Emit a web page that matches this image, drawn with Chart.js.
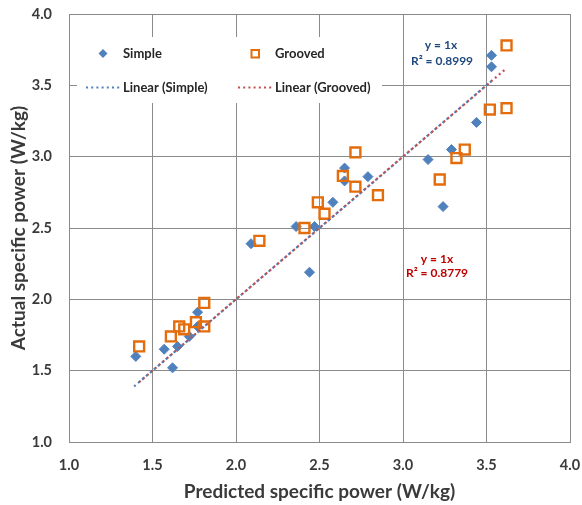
<!DOCTYPE html>
<html>
<head>
<meta charset="utf-8">
<script src="https://cdn.jsdelivr.net/npm/chart.js@4/dist/chart.umd.min.js"></script>
<style>
html,body{margin:0;padding:0;background:#fff;}
#wrap{position:relative;width:582px;height:505px;}
</style>
</head>
<body>
<div id="wrap"><canvas id="c" width="582" height="505"></canvas></div>
<script>
// ---- data ----
const simpleX = [1.40, 1.57, 1.62, 1.65, 1.72, 1.77, 1.77, 2.09, 2.36, 2.47, 2.44, 2.58, 2.65, 2.65, 2.79, 3.15, 3.24, 3.29, 3.44, 3.53, 3.53];
const simpleY = [1.60, 1.65, 1.52, 1.67, 1.74, 1.91, 1.81, 2.39, 2.51, 2.51, 2.19, 2.68, 2.92, 2.83, 2.86, 2.98, 2.65, 3.05, 3.24, 3.71, 3.63];
const groovedX = [1.42, 1.61, 1.66, 1.69, 1.76, 1.81, 1.81, 2.14, 2.41, 2.49, 2.53, 2.64, 2.715, 2.715, 2.85, 3.22, 3.32, 3.37, 3.52, 3.62, 3.62];
const groovedY = [1.67, 1.74, 1.81, 1.79, 1.84, 1.81, 1.975, 2.41, 2.50, 2.68, 2.60, 2.865, 3.03, 2.79, 2.73, 2.84, 2.99, 3.05, 3.33, 3.34, 3.78];
// trendlines y = 1x over each series' x-range
const trendSimpleX = [1.39, 3.53];
const trendSimpleY = [1.39, 3.53];
const trendGroovedX = [1.42, 3.62];
const trendGroovedY = [1.42, 3.62];
const seriesNames = ["Simple", "Grooved", "Linear (Simple)", "Linear (Grooved)"];
const eqSimple = ["y = 1x", "R\u00B2 = 0.8999"];
const eqGrooved = ["y = 1x", "R\u00B2 = 0.8779"];
const axisMin = 1.0, axisMax = 4.0, axisStep = 0.5;
const xTitle = "Predicted specific power (W/kg)";
const yTitle = "Actual specific power (W/kg)";

const toPts = (xs, ys) => xs.map((x, i) => ({x: x, y: ys[i]}));

const FONT = "Lato, 'Open Sans', sans-serif";
const BLUE = "#4F81BD", ORANGE = "#E46C0A", RED = "#C0504D";
const GRID = "#8a8a8a";
const TXT = "#3a3a3a";

const overlay = {
  id: 'overlay',
  beforeDatasetsDraw(chart) {
    const ctx = chart.ctx;
    ctx.save();
    // legend box (covers gridlines)
    ctx.fillStyle = "#fff";
    ctx.fillRect(77, 37, 305, 66);
    // markers
    ctx.fillStyle = BLUE;
    ctx.beginPath();
    ctx.moveTo(103, 49); ctx.lineTo(107.5, 53.5); ctx.lineTo(103, 58); ctx.lineTo(98.5, 53.5); ctx.closePath();
    ctx.fill();
    ctx.strokeStyle = ORANGE; ctx.lineWidth = 2;
    ctx.strokeRect(251.5, 50, 7.5, 7.5);
    // dotted lines
    ctx.lineWidth = 2.2; ctx.setLineDash([2, 3.2]);
    ctx.strokeStyle = BLUE;
    ctx.beginPath(); ctx.moveTo(86, 87.5); ctx.lineTo(120, 87.5); ctx.stroke();
    ctx.strokeStyle = RED;
    ctx.beginPath(); ctx.moveTo(238, 87.5); ctx.lineTo(273, 87.5); ctx.stroke();
    ctx.setLineDash([]);
    // text
    ctx.fillStyle = "#262626";
    ctx.font = "bold 13px " + FONT;
    ctx.textBaseline = "middle"; ctx.textAlign = "left";
    ctx.fillText(seriesNames[0], 123, 54);
    ctx.fillText(seriesNames[1], 275, 54);
    ctx.fillText(seriesNames[2], 123, 87.5);
    ctx.fillText(seriesNames[3], 275, 87.5);
    // equations
    ctx.textAlign = "center";
    ctx.font = "bold 12px " + FONT;
    ctx.fillStyle = "#1F497D";
    ctx.fillText(eqSimple[0], 441, 45);
    ctx.fillText(eqSimple[1], 442, 61);
    ctx.fillStyle = "#C00000";
    ctx.fillText(eqGrooved[0], 437, 259);
    ctx.fillText(eqGrooved[1], 437, 273);
    ctx.restore();
  }
};

new Chart(document.getElementById('c'), {
  type: 'scatter',
  data: {
    datasets: [
      {label: seriesNames[2], type: 'line', data: toPts(trendSimpleX, trendSimpleY), borderColor: BLUE, borderWidth: 2.2, borderDash: [2, 3.2], pointRadius: 0, fill: false, order: 1},
      {label: seriesNames[3], type: 'line', data: toPts(trendGroovedX, trendGroovedY), borderColor: RED, borderWidth: 2.2, borderDash: [2, 3.2], pointRadius: 0, fill: false, order: 0},
      {label: seriesNames[0], data: toPts(simpleX, simpleY), pointStyle: 'rectRot', pointRadius: 5, backgroundColor: BLUE, borderColor: BLUE, borderWidth: 1, order: 3},
      {label: seriesNames[1], data: toPts(groovedX, groovedY), pointStyle: 'rect', pointRadius: 7, backgroundColor: 'rgba(0,0,0,0)', borderColor: ORANGE, borderWidth: 2.4, order: 2}
    ]
  },
  options: {
    responsive: false,
    animation: false,
    layout: {padding: {top: 14, right: 12, left: 0, bottom: 0}},
    plugins: {legend: {display: false}, tooltip: {enabled: false}},
    scales: {
      x: {
        type: 'linear', min: axisMin, max: axisMax,
        ticks: {stepSize: axisStep, padding: 15, color: TXT, font: {family: FONT, size: 14.5, weight: 'bold'}, callback: v => v.toFixed(1)},
        grid: {color: GRID, drawTicks: false, lineWidth: 1},
        border: {color: GRID, width: 1},
        title: {display: true, text: xTitle, color: TXT, font: {family: FONT, size: 19, weight: 'bold'}, padding: {top: 0, bottom: 2}},
        afterFit(s) { s.height = 63; s.paddingLeft = 0; s.paddingRight = 0; }
      },
      y: {
        type: 'linear', min: axisMin, max: axisMax,
        ticks: {stepSize: axisStep, padding: 17, color: TXT, font: {family: FONT, size: 14.5, weight: 'bold'}, callback: v => v.toFixed(1)},
        grid: {color: GRID, drawTicks: false, lineWidth: 1},
        border: {color: GRID, width: 1},
        title: {display: true, text: yTitle, color: TXT, font: {family: FONT, size: 19, weight: 'bold'}, padding: {top: 7, bottom: 0}},
        afterFit(s) { s.width = 69; s.paddingTop = 0; s.paddingBottom = 0; }
      }
    }
  },
  plugins: [overlay]
});
</script>
</body>
</html>
